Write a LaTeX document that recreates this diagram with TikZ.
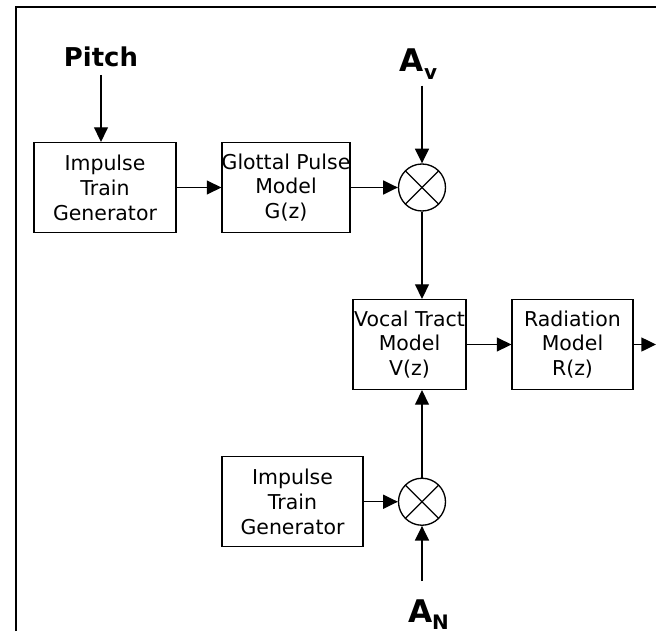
\documentclass[tikz,border=0pt]{standalone}
\usepackage{fontspec}
\setmainfont{DejaVu Sans}
\usepackage{tikz}
\usetikzlibrary{arrows.meta}
\usetikzlibrary{positioning}

\newcommand{\gainsub}[2]{#1\raisebox{-6pt}{\fontsize{15}{15}\selectfont #2}}

\begin{document}
\begin{tikzpicture}[
    every node/.style={inner sep=0pt},
    block/.style={rectangle, draw, line width=0.9pt, minimum height=2.38cm,
      align=center, font=\fontsize{15.4}{18.75}\selectfont},
    mult/.style={circle, draw, line width=1pt, minimum size=1.244cm,
      path picture={
        \draw[line width=1pt] (path picture bounding box.north west) -- (path picture bounding box.south east);
        \draw[line width=1pt] (path picture bounding box.south west) -- (path picture bounding box.north east);
      }},
    label/.style={draw=none, font=\fontsize{19.5}{22}\selectfont\bfseries},
    gain/.style={draw=none, font=\fontsize{23.5}{26}\selectfont\bfseries, anchor=base},
    arr/.style={-{Triangle[length=11pt, width=10.5pt]}, line width=1pt},
  ]

  \useasboundingbox (0, 0) rectangle (17.356, 16.695);

  % outer frame
  \draw[line width=1.3pt] (0.415, 0) -- (0.415, 16.502) -- (17.356, 16.502);

  % voiced branch
  \node[label] (pitch) at (2.672, 15.2) {Pitch};
  \node[block, minimum width=3.757cm] (itg1) at (2.778, 11.734) {Impulse\\Train\\Generator};
  \node[block, minimum width=3.387cm] (glottal) at (7.567, 11.734) {\makebox[0pt]{Glottal Pulse}\\Model\\G(z)};
  \node[mult] (c1) at (11.165, 11.734) {};
  \node[gain] (av) at (11.073, 14.790) {\gainsub{A}{v}};

  % vocal tract and radiation
  \node[block, minimum width=2.99cm] (vt) at (10.835, 7.58) {\makebox[0pt]{Vocal Tract}\\Model\\V(z)};
  \node[block, minimum width=3.201cm] (rad) at (15.147, 7.58) {Radiation\\Model\\R(z)};
  \coordinate (out) at (17.356, 7.58);

  % unvoiced branch
  \node[block, minimum width=3.731cm] (itg2) at (7.739, 3.42) {Impulse\\Train\\Generator};
  \node[mult] (c2) at (11.165, 3.42) {};
  \node[gain] (an) at (11.337, 0.238) {\gainsub{A}{N}};

  % arrows
  \draw[arr, shorten <=6pt] (pitch.south) -- (pitch.south |- itg1.north);
  \draw[arr] (itg1) -- (glottal);
  \draw[arr] (glottal) -- (c1);
  \draw[arr, shorten <=4pt] (c1 |- av.south) -- (c1);
  \draw[arr] (c1) -- (c1 |- vt.north);
  \draw[arr] (vt) -- (rad);
  \draw[arr] (rad) -- (out);
  \draw[arr] (itg2) -- (c2);
  \draw[arr, shorten <=13.5pt] (c2 |- an.north) -- (c2);
  \draw[arr] (c2) -- (c2 |- vt.south);

\end{tikzpicture}
\end{document}
